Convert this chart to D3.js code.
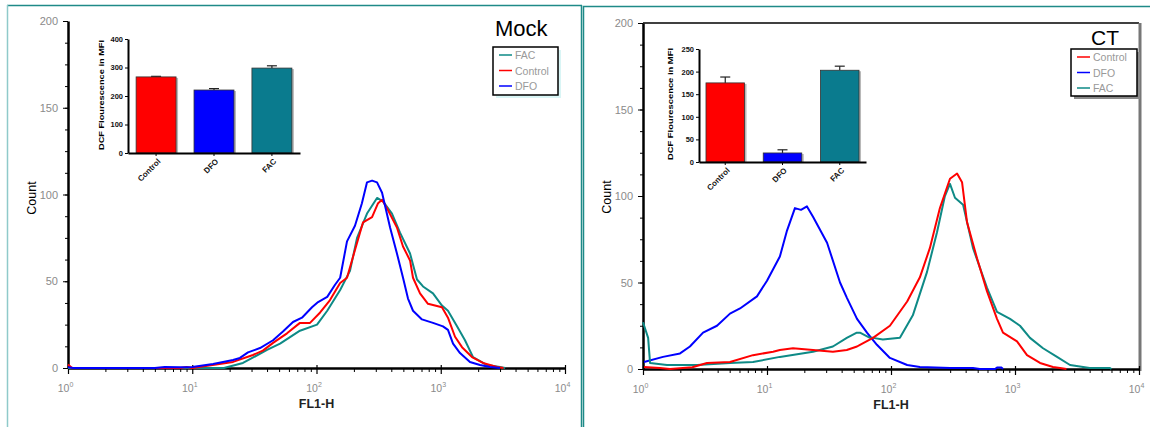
<!DOCTYPE html>
<meta charset="utf-8">
<script src="https://d3js.org/d3.v7.min.js"></script>
<style>
  body { margin: 0; background: #fff; }
  text { font-family: "Liberation Sans", Arial, sans-serif; }
</style>
<svg id="chart" width="1150" height="427"></svg>

<script>
  // ---- data ----
  const fl1Ticks = [1, 10, 100, 1000, 10000];
  const countTicks = [0, 50, 100, 150, 200];

  const insetCategories = ["Control", "DFO", "FAC"];
  const mockMFI = [267, 221, 298];
  const mockMFIErr = [2, 5, 8];
  const ctMFI = [175, 20, 203];
  const ctMFIErr = [13, 7, 9];

  const mockLegend = ["FAC", "Control", "DFO"];
  const ctLegend = ["Control", "DFO", "FAC"];

  // histograms: [FL1-H, count]
  const mockDFO = [[1,0.5],[1.1,0],[5,0],[6,0.6],[8,0.4],[10,0.6],[14.7,2.3],[21.3,4.6],[24.2,5.8],[28.1,9],[35.1,11.5],[44.7,16],[53.7,21],[64.7,26.5],[76.4,29],[92,35],[103,38],[122,41],[141,48],[155,52],[176,73],[204,82],[232,95],[255,107],[280,108],[307,107],[337,101],[391,81],[444,66],[497,52],[545,40],[598,33],[706,28],[866,26],[1042,24],[1143,22],[1256,14],[1429,8.6],[1718,3.5],[2070,1.7],[2490,0.6],[3000,0]];
  const mockControl = [[1,2],[1.08,0],[8,0],[9,0.6],[10,0],[21.3,3.5],[30.8,7.5],[37,10],[44.7,14.5],[57.9,20],[73.6,26],[88.7,26],[107,32],[128,39],[155,49],[176,52],[204,68],[237,84],[280,87],[313,95],[337,97],[376,91],[444,81],[497,70],[566,62],[598,52],[681,43],[789,37],[1023,35],[1143,29],[1303,18],[1483,12],[1784,6.3],[2188,2.9],[2836,0.6],[3200,0]];
  const mockFAC = [[1,0],[18,0],[25.6,2.9],[40,10.4],[50.9,14],[73.6,21.5],[101,25],[122,33],[155,45],[186,56],[212,75],[255,89],[307,98],[343,96],[405,89],[470,78],[566,66],[644,51],[720,47],[866,43],[1023,36],[1143,33],[1352,24],[1567,16],[1819,6.3],[2356,1.7],[3000,0.6],[3300,0]];

  const ctDFO = [[1.02,4],[1.45,7],[1.99,9],[2.39,13],[3.05,21],[3.95,25],[5.03,32],[6.06,35],[8.3,42],[10,51],[12.7,65],[14.5,80],[16.8,93],[18.8,92],[21,94],[23.5,88],[30.5,73],[38.8,50],[44.2,41],[53.2,29],[64,21],[77,14],[98,6.4],[135,2.3],[171,1.2],[300,0.6],[458,0.6],[520,0],[690,0],[716,0.8],[780,0.8],[800,0]];
  const ctControl = [[1.02,1.2],[1.37,0.6],[1.65,0],[2.5,1],[3.28,3.5],[5.03,4],[7.71,8],[11.2,10],[12.7,11],[16.2,12],[23.5,11],[34,10],[44,11],[53.2,13],[56.2,14],[71.6,18],[98,25],[135,39],[171,53],[206,70],[248,93],[299,110],[341,113],[374,108],[410,85],[494,64],[594,45],[716,29],[800,21],[1038,16],[1250,8],[1592,3.5],[2024,1.2],[2307,0.6],[2600,0]];
  const ctFAC = [[1,27],[1.1,18],[1.14,3.5],[1.56,2.3],[2.73,2.3],[5.03,3.5],[7.71,4],[12.7,7],[23.5,10],[34,13],[44,18],[53,21],[56.2,21],[67.7,18],[71.6,18],[86,17],[118,18],[150,31],[195,56],[235,79],[272,100],[299,107],[328,99],[381,95],[458,70],[594,47],[716,33],[912,29],[1097,25],[1321,18],[1683,12],[2182,7],[2778,2.3],[4000,0.6],[5834,0.6],[6000,0]];

  const colors = { Control: "#ff0000", DFO: "#0000ff", FAC: "#0e8a86" };
  const barColors = { Control: "#ff0000", DFO: "#0000ff", FAC: "#0a7b8e" };
  const tickGray = "#8a8a8a";

  const svg = d3.select("#chart");

  // panel frames (teal lines)
  svg.append("line").attr("x1", 7).attr("x2", 582).attr("y1", 5.5).attr("y2", 5.5).attr("stroke", "#1f8a88").attr("stroke-width", 1.5);
  svg.append("line").attr("x1", 7.5).attr("x2", 7.5).attr("y1", 5).attr("y2", 427).attr("stroke", "#8fcaca").attr("stroke-width", 1.5);
  svg.append("line").attr("x1", 581.5).attr("x2", 581.5).attr("y1", 5).attr("y2", 427).attr("stroke", "#1f8a88").attr("stroke-width", 1.5);
  svg.append("line").attr("x1", 583.5).attr("x2", 583.5).attr("y1", 6).attr("y2", 427).attr("stroke", "#1f8a88").attr("stroke-width", 1.5);
  svg.append("line").attr("x1", 583).attr("x2", 1150).attr("y1", 6.5).attr("y2", 6.5).attr("stroke", "#1f8a88").attr("stroke-width", 1.5);

  function drawPanel(p) {
    const g = svg.append("g");
    const x = d3.scaleLog().domain([1, 10000]).range([p.left, p.right]);
    const y = d3.scaleLinear().domain([0, 200]).range([p.bottom, p.top]);

    if (p.frame) {
      g.append("line").attr("x1", p.left).attr("x2", p.right).attr("y1", p.top).attr("y2", p.top)
        .attr("stroke", "#000").attr("stroke-width", 1.5);
      g.append("line").attr("x1", p.right + 1).attr("x2", p.right + 1).attr("y1", p.top).attr("y2", p.bottom + 2)
        .attr("stroke", "#777").attr("stroke-width", 3);
    }

    // x minor ticks
    const minor = [];
    for (let e = 0; e < 4; e++) for (let m = 2; m <= 9; m++) minor.push(m * 10 ** e);
    g.append("g").attr("transform", `translate(0,${p.bottom})`)
      .call(d3.axisBottom(x).tickValues(minor).tickSize(4).tickFormat(""))
      .call(a => a.select(".domain").remove());

    const xa = g.append("g").attr("transform", `translate(0,${p.bottom})`)
      .call(d3.axisBottom(x).tickValues(fl1Ticks).tickSize(6).tickSizeOuter(0).tickFormat(""));
    xa.select(".domain").attr("stroke-width", 2.5);
    xa.selectAll(".tick line").attr("y1", -3).attr("stroke-width", 1.2);
    xa.selectAll(".tick text").each(function (d) {
      const t = d3.select(this);
      t.attr("dy", null).attr("y", 24).attr("x", -3).attr("fill", tickGray).attr("font-size", 10.5);
      t.append("tspan").text("10");
      t.append("tspan").attr("dy", -5).attr("font-size", 7).text(Math.round(Math.log10(d)));
    });

    // y minor ticks
    g.append("g").attr("transform", `translate(${p.left},0)`)
      .call(d3.axisLeft(y).tickValues(d3.range(0, 201, 12.5)).tickSize(3).tickFormat(""))
      .call(a => a.select(".domain").remove());
    const ya = g.append("g").attr("transform", `translate(${p.left},0)`)
      .call(d3.axisLeft(y).tickValues(countTicks).tickSize(5).tickSizeOuter(0).tickPadding(5));
    ya.select(".domain").attr("stroke-width", 2.5);
    ya.selectAll(".tick text").attr("fill", tickGray).attr("font-size", 11);

    // axis titles
    g.append("text").attr("transform", `translate(${p.countX},${p.countY}) rotate(-90)`)
      .attr("text-anchor", "middle").attr("font-size", 12.5).text("Count");
    g.append("text").attr("x", x(100)).attr("y", p.bottom + 40).attr("text-anchor", "middle")
      .attr("font-size", 12.5).attr("font-weight", "bold").attr("fill", "#222").text("FL1-H");

    // histograms
    const line = d3.line().x(d => x(d[0])).y(d => y(d[1]));
    p.series.forEach(s => {
      g.append("path").datum(s.data).attr("d", line).attr("fill", "none")
        .attr("stroke", colors[s.name]).attr("stroke-width", 2).attr("stroke-linejoin", "round");
    });

    // title
    g.append("text").attr("x", p.titleX).attr("y", p.titleY).attr("font-size", p.titleSize).text(p.title);

    // legend
    const L = p.legend;
    g.append("rect").attr("x", L.x + 3).attr("y", L.y + 3).attr("width", L.w).attr("height", L.h).attr("fill", L.shadow);
    g.append("rect").attr("x", L.x).attr("y", L.y).attr("width", L.w).attr("height", L.h)
      .attr("fill", "#fff").attr("stroke", "#000").attr("stroke-width", 1.5);
    p.legendItems.forEach((name, i) => {
      const yy = L.y + 8 + i * 15.5;
      g.append("line").attr("x1", L.x + 6).attr("x2", L.x + 19).attr("y1", yy).attr("y2", yy)
        .attr("stroke", colors[name]).attr("stroke-width", 1.5);
      g.append("text").attr("x", L.x + 22).attr("y", yy + 4).attr("font-size", 10.5).attr("fill", "#999").text(name);
    });
  }

  function drawInset(s) {
    const g = svg.append("g");
    const xb = d3.scaleBand().domain(insetCategories).range([s.left, s.right])
      .paddingInner(s.pi).paddingOuter(s.po);
    const yb = d3.scaleLinear().domain([0, s.max]).range([s.bottom, s.top]);

    insetCategories.forEach((c, i) => {
      const v = s.values[i], e = s.errors[i];
      const cx = xb(c) + xb.bandwidth() / 2;
      g.append("line").attr("x1", cx).attr("x2", cx).attr("y1", yb(v)).attr("y2", yb(v + e))
        .attr("stroke", "#222").attr("stroke-width", 1.2);
      g.append("line").attr("x1", cx - 5).attr("x2", cx + 5).attr("y1", yb(v + e)).attr("y2", yb(v + e))
        .attr("stroke", "#222").attr("stroke-width", 1.2);
      g.append("rect").attr("x", xb(c) + 2).attr("y", yb(v) + 1).attr("width", xb.bandwidth())
        .attr("height", yb(0) - yb(v) - 1).attr("fill", "#b8b8b8");
      g.append("rect").attr("x", xb(c)).attr("y", yb(v)).attr("width", xb.bandwidth())
        .attr("height", yb(0) - yb(v)).attr("fill", barColors[c]).attr("stroke", "#333").attr("stroke-width", 0.8);
    });

    const xa = g.append("g").attr("transform", `translate(0,${s.bottom})`)
      .call(d3.axisBottom(xb).tickSize(3).tickSizeOuter(0));
    xa.select(".domain").attr("stroke-width", 2);
    xa.selectAll(".tick text").attr("y", 0).attr("dy", 0).attr("text-anchor", "end")
      .attr("transform", "translate(5,9) rotate(-45)")
      .attr("font-size", 8).attr("font-weight", "bold").attr("fill", "#111");

    const ya = g.append("g").attr("transform", `translate(${s.left},0)`)
      .call(d3.axisLeft(yb).tickValues(d3.range(0, s.max + 1, s.step)).tickSize(3).tickSizeOuter(0).tickPadding(2));
    ya.select(".domain").attr("stroke-width", 2);
    ya.selectAll(".tick text").attr("font-size", 7.5).attr("font-weight", "bold").attr("fill", "#111");

    g.append("text").attr("transform", `translate(${s.labelX},${s.labelY}) rotate(-90)`)
      .attr("text-anchor", "middle").attr("font-size", 8).attr("font-weight", "bold")
      .attr("textLength", s.labelLen).attr("lengthAdjust", "spacingAndGlyphs")
      .text("DCF Flourescence in MFI");
  }

  drawPanel({
    left: 68, right: 565, top: 21, bottom: 368, frame: false,
    countX: 36, countY: 198,
    title: "Mock", titleX: 495, titleY: 36, titleSize: 22,
    legend: { x: 493, y: 47, w: 65, h: 48, shadow: "#d9f5f5" },
    legendItems: mockLegend,
    series: [{ name: "FAC", data: mockFAC }, { name: "Control", data: mockControl }, { name: "DFO", data: mockDFO }]
  });

  drawPanel({
    left: 643, right: 1139, top: 23, bottom: 369, frame: true,
    countX: 611, countY: 197,
    title: "CT", titleX: 1091, titleY: 45, titleSize: 21,
    legend: { x: 1071, y: 49, w: 66, h: 47, shadow: "#8a8a8a" },
    legendItems: ctLegend,
    series: [{ name: "DFO", data: ctDFO }, { name: "FAC", data: ctFAC }, { name: "Control", data: ctControl }]
  });

  drawInset({
    left: 128, right: 300, top: 39, bottom: 153, max: 400, step: 100,
    pi: 0.31, po: 0.14, values: mockMFI, errors: mockMFIErr,
    labelX: 104, labelY: 95, labelLen: 110
  });

  drawInset({
    left: 699, right: 866, top: 49, bottom: 162, max: 250, step: 50,
    pi: 0.327, po: 0.122, values: ctMFI, errors: ctMFIErr,
    labelX: 673, labelY: 104, labelLen: 112
  });
</script>
